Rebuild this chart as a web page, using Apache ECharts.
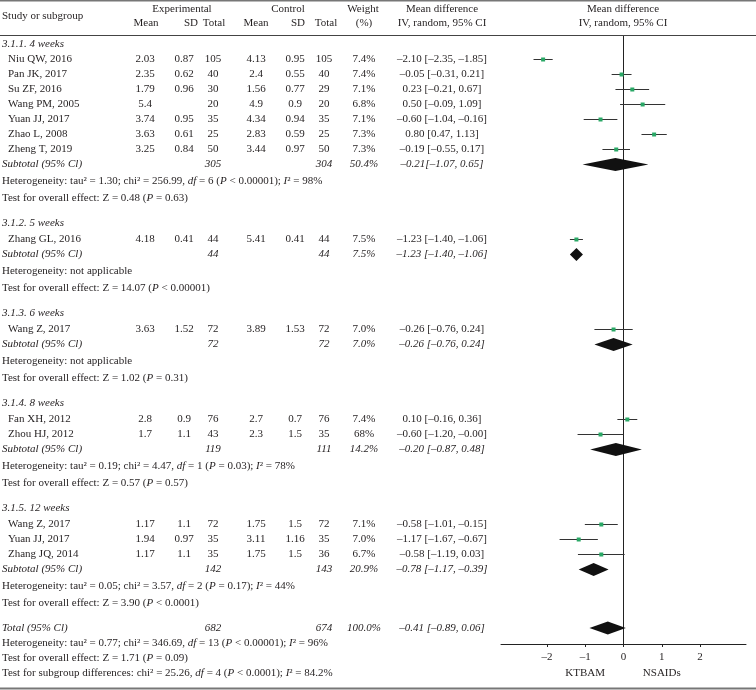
<!DOCTYPE html>
<html><head><meta charset="utf-8">
<script src="https://cdn.jsdelivr.net/npm/echarts@6/dist/echarts.min.js"></script>
<style>html,body{margin:0;padding:0;background:#fff}#c{width:756px;height:690px}</style>
</head><body><div id="c"></div>
<script>
// ---------------- DATA ----------------
const groupLabels = ['3.1.1. 4 weeks','3.1.2. 5 weeks','3.1.3. 6 weeks','3.1.4. 8 weeks','3.1.5. 12 weeks'];
const studyNames = ['Niu QW, 2016','Pan JK, 2017','Su ZF, 2016','Wang PM, 2005','Yuan JJ, 2017','Zhao L, 2008','Zheng T, 2019','Zhang GL, 2016','Wang Z, 2017','Fan XH, 2012','Zhou HJ, 2012','Wang Z, 2017','Yuan JJ, 2017','Zhang JQ, 2014'];
const studyGroup = [0,0,0,0,0,0,0,1,2,3,3,4,4,4];
const expMean = [2.03,2.35,1.79,5.4,3.74,3.63,3.25,4.18,3.63,2.8,1.7,1.17,1.94,1.17];
const expSD = [0.87,0.62,0.96,null,0.95,0.61,0.84,0.41,1.52,0.9,1.1,1.1,0.97,1.1];
const expTotal = [105,40,30,20,35,25,50,44,72,76,43,72,35,35];
const ctlMean = [4.13,2.4,1.56,4.9,4.34,2.83,3.44,5.41,3.89,2.7,2.3,1.75,3.11,1.75];
const ctlSD = [0.95,0.55,0.77,0.9,0.94,0.59,0.97,0.41,1.53,0.7,1.5,1.5,1.16,1.5];
const ctlTotal = [105,40,29,20,35,25,50,44,72,76,35,72,35,36];
const weightLabels = ['7.4%','7.4%','7.1%','6.8%','7.1%','7.3%','7.3%','7.5%','7.0%','7.4%','68%','7.1%','7.0%','6.7%'];
const md = [-2.10,-0.05,0.23,0.50,-0.60,0.80,-0.19,-1.23,-0.26,0.10,-0.60,-0.58,-1.17,-0.58];
const mdLow = [-2.35,-0.31,-0.21,-0.09,-1.04,0.47,-0.55,-1.40,-0.76,-0.16,-1.20,-1.01,-1.67,-1.19];
const mdHigh = [-1.85,0.21,0.67,1.09,-0.16,1.13,0.17,-1.06,0.24,0.36,-0.00,-0.15,-0.67,0.03];

const subExpTotal = [305,44,72,119,142];
const subCtlTotal = [304,44,72,111,143];
const subWeight = ['50.4%','7.5%','7.0%','14.2%','20.9%'];
const subMd = [-0.21,-1.23,-0.26,-0.20,-0.78];
const subLow = [-1.07,-1.40,-0.76,-0.87,-1.17];
const subHigh = [0.65,-1.06,0.24,0.48,-0.39];
const hetTau = ['1.30',null,null,'0.19','0.05'];
const hetChi = ['256.99',null,null,'4.47','3.57'];
const hetDf = [6,null,null,1,2];
const hetP = ['< 0.00001',null,null,'= 0.03','= 0.17'];
const hetI2 = ['98%',null,null,'78%','44%'];
const testZ = ['0.48','14.07','1.02','0.57','3.90'];
const testP = ['= 0.63','< 0.00001','= 0.31','= 0.57','< 0.0001'];

const totalTotals = [682, 674];
const totalWeight = '100.0%';
const totalMdCI = [-0.41, -0.89, 0.06];
const overallHet = ['0.77','346.69',13,'< 0.00001','96%'];
const overallTest = ['1.71','= 0.09'];
const subgroupDiff = ['25.26',4,'< 0.0001','84.2%'];

const xTicks = [-2,-1,0,1,2];
const favourTicks = [-1,1];
const favourLabels = ['KTBAM','NSAIDs'];

// ---------------- LAYOUT ----------------
const FONT = '"Liberation Serif","DejaVu Serif",serif';
const FS = 11;
const TXT = '#231f20';
const GREEN = '#2aa866';
const GRID_TOP = 36, GRID_H = 608, GRID_LEFT = 501, GRID_W = 245;
const LINE = 15;
const YMAX = GRID_H / LINE;
const X0 = 2, XIND = 8;
const COL = {em:145, esd:184, et:213, cm:256, csd:295, ct:324, w:364, md:442};

function fmt(v){ return (v < 0 || Object.is(v,-0)) ? '\u2013' + Math.abs(v).toFixed(2) : v.toFixed(2); }
function ciText(m,l,h){ return fmt(m) + ' [' + fmt(l) + ', ' + fmt(h) + ']'; }

// procedural row layout (pixel offsets converted to axis units)
const rows = [];
let yy = 44.5;
for (let g = 0; g < groupLabels.length; g++) {
  rows.push({kind:'group', g, y: yy}); yy += (g === 0 ? 15 : 16.5);
  studyNames.forEach((n,i) => { if (studyGroup[i] === g) { rows.push({kind:'study', i, y: yy}); yy += 15; } });
  rows.push({kind:'sub', g, y: yy}); yy += 17;
  rows.push({kind:'het', g, y: yy}); yy += 17;
  rows.push({kind:'test', g, y: yy}); yy += 24.5;
}
rows.push({kind:'total', y: yy}); yy += 15;
rows.push({kind:'ohet', y: yy}); yy += 15;
rows.push({kind:'otest', y: yy}); yy += 15;
rows.push({kind:'sgd', y: yy});
rows.forEach(r => r.pos = (r.y - GRID_TOP) / LINE);

const rich = {
  n: {fontFamily: FONT, fontSize: FS, fill: TXT},
  i: {fontFamily: FONT, fontSize: FS, fill: TXT, fontStyle: 'italic'}
};
function hetStr(t,c,d,p,i2){
  return `{n|Heterogeneity: tau² = ${t}; chi² = ${c}, }{i|df}{n| = ${d} (}{i|P}{n| ${p}); }{i|I}{n|² = ${i2}}`;
}
function testStr(z,p){ return `{n|Test for overall effect: Z = ${z} (}{i|P}{n| ${p})}`; }

function txt(x, y, s, align, italic){
  return {type:'text', x, y, style:{text: s, fill: TXT, fontFamily: FONT, fontSize: FS,
    fontStyle: italic ? 'italic' : 'normal', align: align || 'center', verticalAlign: 'middle'}};
}
function richTxt(x, y, s){
  return {type:'text', x, y, style:{text: s, rich, fill: TXT, fontFamily: FONT, fontSize: FS, align:'left', verticalAlign:'middle'}};
}

function rowElements(r, y){
  const out = [];
  if (r.kind === 'group') out.push(txt(X0, y, groupLabels[r.g], 'left', true));
  else if (r.kind === 'study') {
    const i = r.i;
    out.push(txt(XIND, y, studyNames[i], 'left'));
    out.push(txt(COL.em, y, String(expMean[i])));
    if (expSD[i] != null) out.push(txt(COL.esd, y, String(expSD[i])));
    out.push(txt(COL.et, y, String(expTotal[i])));
    out.push(txt(COL.cm, y, String(ctlMean[i])));
    out.push(txt(COL.csd, y, String(ctlSD[i])));
    out.push(txt(COL.ct, y, String(ctlTotal[i])));
    out.push(txt(COL.w, y, weightLabels[i]));
    out.push(txt(COL.md, y, ciText(md[i], mdLow[i], mdHigh[i])));
  } else if (r.kind === 'sub') {
    const g = r.g;
    out.push(txt(X0, y, 'Subtotal (95% Cl)', 'left', true));
    out.push(txt(COL.et, y, String(subExpTotal[g]), 'center', true));
    out.push(txt(COL.ct, y, String(subCtlTotal[g]), 'center', true));
    out.push(txt(COL.w, y, subWeight[g], 'center', true));
    const s = g === 0 ? fmt(subMd[g]) + '[' + fmt(subLow[g]) + ', ' + fmt(subHigh[g]) + ']' : ciText(subMd[g], subLow[g], subHigh[g]);
    out.push(txt(COL.md, y, s, 'center', true));
  } else if (r.kind === 'het') {
    const g = r.g;
    out.push(hetTau[g] == null ? richTxt(X0, y, '{n|Heterogeneity: not applicable}')
      : richTxt(X0, y, hetStr(hetTau[g], hetChi[g], hetDf[g], hetP[g], hetI2[g])));
  } else if (r.kind === 'test') {
    out.push(richTxt(X0, y, testStr(testZ[r.g], testP[r.g])));
  } else if (r.kind === 'total') {
    out.push(txt(X0, y, 'Total (95% Cl)', 'left', true));
    out.push(txt(COL.et, y, String(totalTotals[0]), 'center', true));
    out.push(txt(COL.ct, y, String(totalTotals[1]), 'center', true));
    out.push(txt(COL.w, y, totalWeight, 'center', true));
    out.push(txt(COL.md, y, ciText(totalMdCI[0], totalMdCI[1], totalMdCI[2]), 'center', true));
  } else if (r.kind === 'ohet') {
    out.push(richTxt(X0, y, hetStr(...overallHet)));
  } else if (r.kind === 'otest') {
    out.push(richTxt(X0, y, testStr(...overallTest)));
  } else if (r.kind === 'sgd') {
    const [c,d,p,i2] = subgroupDiff;
    out.push(richTxt(X0, y, `{n|Test for subgroup differences: chi² = ${c}, }{i|df}{n| = ${d} (}{i|P}{n| ${p}); }{i|I}{n|² = ${i2}}`));
  }
  return out;
}

const studyData = rows.filter(r => r.kind === 'study').map(r => [md[r.i], r.pos, mdLow[r.i], mdHigh[r.i]]);
const diamondData = rows.filter(r => r.kind === 'sub').map(r => [subMd[r.g], r.pos, subLow[r.g], subHigh[r.g]]);
const totRow = rows.find(r => r.kind === 'total');
diamondData.push([totalMdCI[0], totRow.pos, totalMdCI[1], totalMdCI[2]]);

const chart = echarts.init(document.getElementById('c'), null, {renderer:'canvas'});
const hdr = (x, y, s, align) => ({type:'text', x, y, style:{text:s, fill:TXT, fontFamily:FONT, fontSize:FS, align: align||'center', verticalAlign:'middle'}});
chart.setOption({
  animation: false,
  backgroundColor: '#fff',
  grid: {left: GRID_LEFT, top: GRID_TOP, width: GRID_W, height: GRID_H},
  xAxis: {
    type:'value', min:-3.2, max:3.2, position:'bottom',
    axisLine:{show:true, onZero:false, lineStyle:{color:'#222', width:1}},
    axisTick:{show:true, length:3, customValues: xTicks, lineStyle:{color:'#222'}},
    axisLabel:{customValues: xTicks, margin:8, color:TXT, fontFamily:FONT, fontSize:FS,
      formatter: v => v < 0 ? '\u2013' + Math.abs(v) : String(v)},
    splitLine:{show:false}
  },
  yAxis: {type:'value', min:0, max:YMAX, inverse:true, show:false},
  graphic: [
    {type:'line', shape:{x1:0,y1:0.5,x2:756,y2:0.5}, style:{stroke:'#777', lineWidth:2}},
    {type:'line', shape:{x1:0,y1:GRID_TOP-0.5,x2:756,y2:GRID_TOP-0.5}, style:{stroke:'#444', lineWidth:1}},
    {type:'line', shape:{x1:0,y1:688.5,x2:756,y2:688.5}, style:{stroke:'#777', lineWidth:2}},
    hdr(X0, 16, 'Study or subgroup', 'left'),
    hdr(182, 9, 'Experimental'), hdr(288, 9, 'Control'), hdr(363, 9, 'Weight'),
    hdr(146, 23, 'Mean'), hdr(191, 23, 'SD'), hdr(214, 23, 'Total'),
    hdr(256, 23, 'Mean'), hdr(298, 23, 'SD'), hdr(326, 23, 'Total'), hdr(364, 23, '(%)'),
    hdr(COL.md, 9, 'Mean difference'), hdr(COL.md, 23, 'IV, random, 95% CI'),
    hdr(623, 9, 'Mean difference'), hdr(623, 23, 'IV, random, 95% CI')
  ],
  series: [
    {type:'line', data:[[0,0],[0,YMAX]], symbol:'none', silent:true,
      lineStyle:{color:'#222', width:1}, z:1},
    {type:'custom', clip:false, silent:true, z:3,
      data: rows.map((r, k) => [0, r.pos, k]),
      encode:{x:0, y:1},
      renderItem: (params, api) => {
        const r = rows[api.value(2)];
        const y = api.coord([0, api.value(1)])[1];
        return {type:'group', children: rowElements(r, y)};
      }},
    {type:'custom', clip:false, silent:true, z:3,
      data: favourTicks.map((v, k) => [v, YMAX, k]),
      encode:{x:0, y:1},
      renderItem: (params, api) => {
        const p = api.coord([api.value(0), api.value(1)]);
        return txt(p[0], p[1] + 29, favourLabels[api.value(2)]);
      }},
    {type:'custom', clip:false, silent:true, z:4,
      data: studyData, encode:{x:[0,2,3], y:1},
      renderItem: (params, api) => {
        const p = api.coord([api.value(0), api.value(1)]);
        const lo = api.coord([api.value(2), api.value(1)]);
        const hi = api.coord([api.value(3), api.value(1)]);
        return {type:'group', children:[
          {type:'line', shape:{x1:lo[0], y1:p[1], x2:hi[0], y2:p[1]}, style:{stroke:'#333', lineWidth:1}},
          {type:'rect', shape:{x:p[0]-2, y:p[1]-2, width:4, height:4}, style:{fill:GREEN}}
        ]};
      }},
    {type:'custom', clip:false, silent:true, z:4,
      data: diamondData, encode:{x:[0,2,3], y:1},
      renderItem: (params, api) => {
        const p = api.coord([api.value(0), api.value(1)]);
        const lo = api.coord([api.value(2), api.value(1)]);
        const hi = api.coord([api.value(3), api.value(1)]);
        const h = 6.5;
        return {type:'polygon', shape:{points:[[lo[0],p[1]],[p[0],p[1]-h],[hi[0],p[1]],[p[0],p[1]+h]]},
          style:{fill:'#111'}};
      }}
  ]
});
</script></body></html>
